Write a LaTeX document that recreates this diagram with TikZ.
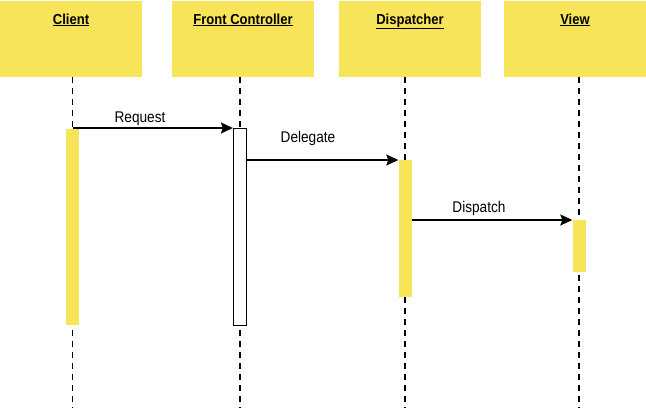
\documentclass[tikz,border=0pt]{standalone}
\usepackage{fontspec}
\setmainfont[FakeStretch=0.9]{Liberation Sans}
\newfontfamily\msgfont[FakeStretch=0.88]{Liberation Sans}
\usetikzlibrary{arrows.meta}
\definecolor{hdr}{RGB}{248,228,88}
\tikzset{
  header/.style={fill=hdr, draw=none, minimum width=142pt, minimum height=76pt, inner sep=0pt, anchor=north},
  title/.style={font=\fontsize{14.5}{16}\selectfont\bfseries, anchor=base, inner sep=0pt},
  msg/.style={font=\msgfont\fontsize{15.5}{17}\selectfont, anchor=base, inner sep=0pt},
  life/.style={line width=1.5pt, dash pattern=on 6pt off 5pt},
  actbar/.style={fill=hdr, draw=none, minimum width=13pt, inner sep=0pt, anchor=north},
  actbox/.style={fill=white, draw=black, line width=1.3pt, minimum width=13pt, inner sep=0pt, anchor=north},
  call/.style={line width=1.5pt, -{Stealth[length=12pt,width=11pt,inset=2pt]}}
}
\begin{document}
\begin{tikzpicture}[x=1pt,y=-1pt]
\useasboundingbox (0,0) rectangle (646,408);
% headers
\node[header] (hc) at (71,1) {};
\node[header] (hf) at (243,1) {};
\node[header] (hd) at (410,1) {};
\node[header] (hv) at (575,1) {};
\node[title] (tc) at (71,24) {\underline{Client}};
\node[title] (tf) at (243,24) {\underline{Front Controller}};
\node[title] (td) at (410,24) {\underline{Dispatcher}};
\node[title] (tv) at (575,24) {\underline{View}};
% lifelines
\coordinate (ec) at (72.5,408);
\coordinate (ef) at (240,408);
\coordinate (ed) at (405,408);
\coordinate (ev) at (579,408);
\draw[life] (ec |- hc.south) -- (ec);
\draw[life] (ef |- hf.south) -- (ef);
\draw[life] (ed |- hd.south) -- (ed);
\draw[life] (ev |- hv.south) -- (ev);
% activations
\node[actbar, minimum height=196pt] (bc) at (72.5,129) {};
\node[actbox, minimum height=197pt] (bf) at (240,128) {};
\node[actbar, minimum height=137pt] (bd) at (405,160) {};
\node[actbar, minimum height=52pt] (bv) at (579,220) {};
% messages
\draw[call] (bc.north |- bf.north) -- (bf.north west);
\draw[call] (bf.east |- bd.north) -- (bd.north west);
\draw[call] (bd.east |- bv.north) -- (bv.north west);
\node[msg] (lr) at (140,122) {Request};
\node[msg] (ld) at (308,142) {Delegate};
\node[msg] (lp) at (479,212) {Dispatch};
\end{tikzpicture}
\end{document}
